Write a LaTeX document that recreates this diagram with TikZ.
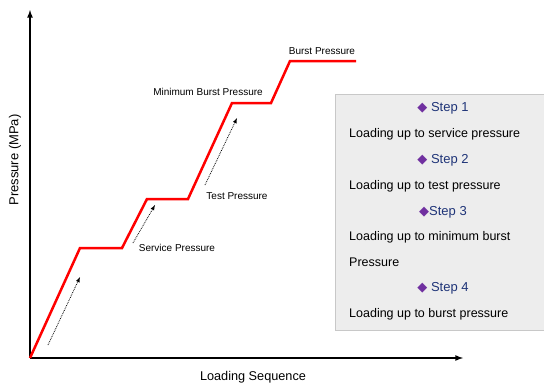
\documentclass[tikz,border=0pt]{standalone}
\usepackage{fontspec}
\setmainfont{Liberation Sans}
\newfontfamily\symfont{DejaVu Sans}
\definecolor{stepblue}{RGB}{31,52,120}
\definecolor{steppurple}{RGB}{112,48,160}
\definecolor{boxgray}{RGB}{237,237,237}
\definecolor{boxline}{RGB}{200,200,200}
\tikzset{
  curve/.style={red, line width=2.5pt},
  loadarrow/.style={densely dotted, thick, -latex},
  levellabel/.style={font=\fontsize{10}{11}\selectfont, inner sep=1pt},
  steplabel/.style={stepblue, font=\fontsize{13}{15}\selectfont},
  loadtext/.style={anchor=west, font=\fontsize{12.5}{14}\selectfont, inner sep=0pt}
}
\newcommand{\stepmark}{{\symfont\color{steppurple}◆}}

\begin{document}
\begin{tikzpicture}[x=1pt,y=-1pt]
  \useasboundingbox (0,0) rectangle (544,386);

	%draw axes
  \coordinate (O) at (30,358);
  \coordinate (ytop) at (30,10);
  \coordinate (xend) at (463,358);
  \draw[line width=1.6pt,-latex] (O) -- (ytop);
  \draw[line width=1.6pt,-latex] (O) -- (xend);
  \node[rotate=90, font=\fontsize{13}{15}\selectfont] (ylabel) at (15,160) {Pressure (MPa)};
  \node[font=\fontsize{12.7}{15}\selectfont] (xlabel) at (253,377) {Loading Sequence};

	%pressure curve
  \foreach \x/\y/\name in {80/248/p1, 122/248/p2, 147/199/p3, 188/199/p4,
                           232/103/p5, 271/103/p6, 290/61/p7, 356/61/p8}{
      \coordinate (\name) at (\x,\y);
  }
  \draw[curve] (O) -- (p1) -- (p2) -- (p3) -- (p4) -- (p5) -- (p6) -- (p7) -- (p8);

	%loading arrows
  \foreach \i/\xa/\ya/\xb/\yb in {1/48/345/80/277, 2/133/243/155/205, 3/205/185/237/118}{
      \coordinate (a\i) at (\xa,\ya);
      \coordinate (b\i) at (\xb,\yb);
      \draw[loadarrow] (a\i) -- (b\i);
  }

	%level labels
  \node[levellabel] (service) at (177,248) {Service Pressure};
  \node[levellabel] (test) at (237,196) {Test Pressure};
  \node[levellabel] (minburst) at (208,92) {Minimum Burst Pressure};
  \node[levellabel] (burst) at (322,51) {Burst Pressure};

	%step box
  \draw[boxline, fill=boxgray, line width=1pt] (335,94) rectangle (550,330);
  \foreach \i/\y/\gap in {1/108/\ , 2/160/\ , 3/212/, 4/288/\ }{
      \node[steplabel] (step\i) at (443,\y) {\stepmark\gap Step \i};
  }
  \node[loadtext] (load1) at (349,134) {Loading up to service pressure};
  \node[loadtext] (load2) at (349,186) {Loading up to test pressure};
  \node[loadtext] (load3) at (349,237) {Loading up to minimum burst};
  \node[loadtext] (load3b) at (349,262) {Pressure};
  \node[loadtext] (load4) at (349,314) {Loading up to burst pressure};

\end{tikzpicture}
\end{document}
